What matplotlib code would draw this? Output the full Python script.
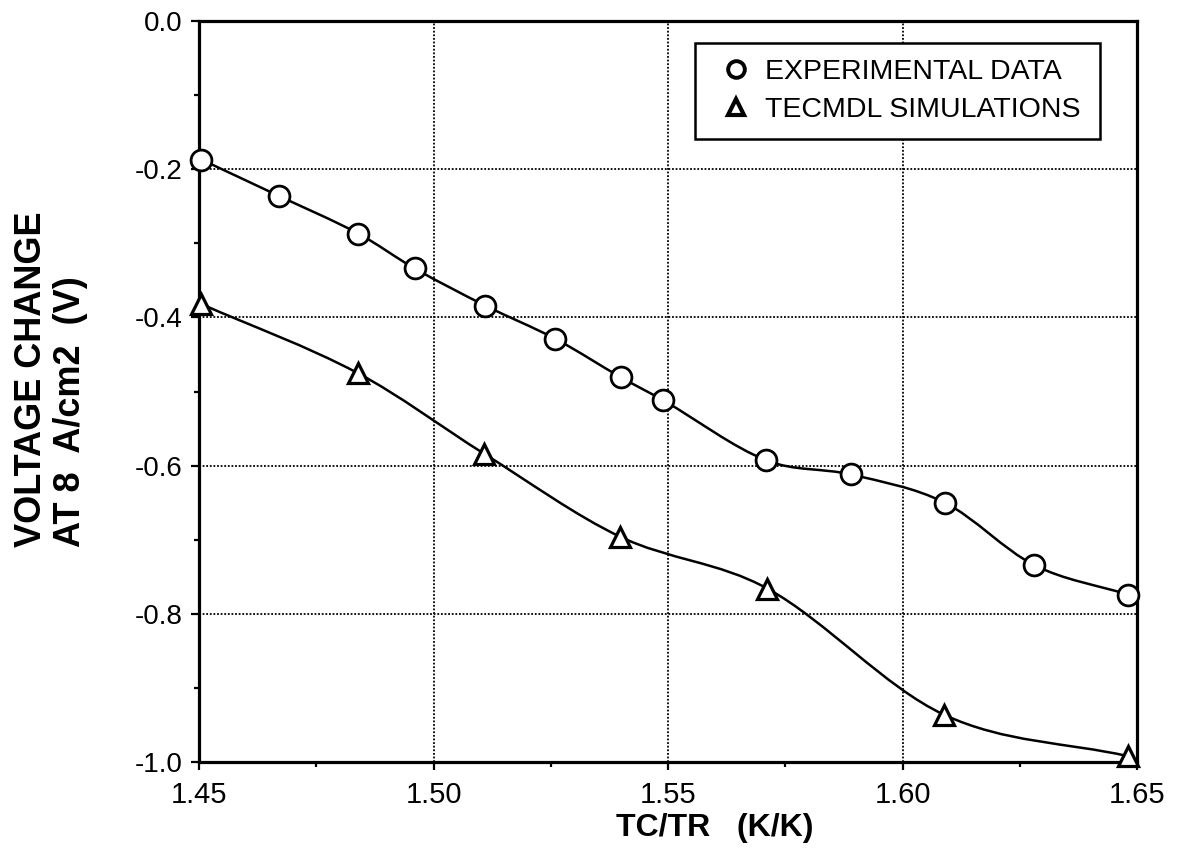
import numpy as np
import matplotlib
matplotlib.use("Agg")
import matplotlib.pyplot as plt
from matplotlib.path import Path
from matplotlib.patches import PathPatch
from matplotlib.lines import Line2D

plt.rcParams['font.family'] = ['Liberation Sans', 'DejaVu Sans']
plt.rcParams['axes.unicode_minus'] = False

# ---- data ----
exp_x = [1.4505, 1.467, 1.484, 1.496, 1.511, 1.526, 1.540, 1.549, 1.571, 1.589, 1.609, 1.628, 1.648]
exp_y = [-0.187, -0.236, -0.287, -0.334, -0.384, -0.429, -0.481, -0.512, -0.593, -0.612, -0.650, -0.734, -0.774]
sim_x = [1.4505, 1.4838, 1.5108, 1.5398, 1.5712, 1.6088, 1.648]
sim_y = [-0.382, -0.475, -0.584, -0.696, -0.766, -0.936, -0.992]

x_ticks = [1.45, 1.50, 1.55, 1.60, 1.65]
x_tick_labels = ["1.45", "1.50", "1.55", "1.60", "1.65"]
y_ticks = [0.0, -0.2, -0.4, -0.6, -0.8, -1.0]
y_tick_labels = ["0.0", "-0.2", "-0.4", "-0.6", "-0.8", "-1.0"]
x_minor = [1.475, 1.525, 1.575, 1.625]
y_minor = [-0.1, -0.3, -0.5, -0.7, -0.9]

series_labels = ["EXPERIMENTAL DATA", "TECMDL SIMULATIONS"]
x_label = "TC/TR   (K/K)"
y_label = "VOLTAGE CHANGE\nAT 8  A/cm2  (V)"


def smooth_path(xs, ys):
    """Smooth Hermite (Bezier) curve through the data points, drawn in data coordinates."""
    x = np.asarray(xs, float)
    y = np.asarray(ys, float)
    n = len(x)
    m = np.empty(n)
    m[0] = (y[1] - y[0]) / (x[1] - x[0])
    m[-1] = (y[-1] - y[-2]) / (x[-1] - x[-2])
    for i in range(1, n - 1):
        m[i] = (y[i + 1] - y[i - 1]) / (x[i + 1] - x[i - 1])
    verts = [(x[0], y[0])]
    codes = [Path.MOVETO]
    for i in range(n - 1):
        h = x[i + 1] - x[i]
        verts += [(x[i] + h / 3, y[i] + m[i] * h / 3),
                  (x[i + 1] - h / 3, y[i + 1] - m[i + 1] * h / 3),
                  (x[i + 1], y[i + 1])]
        codes += [Path.CURVE4] * 3
    return Path(verts, codes)


W, H = 1177, 859
fig = plt.figure(figsize=(W / 100, H / 100), dpi=100)
left, right, top, bottom = 199, 1137, 21, 762
ax = fig.add_axes([left / W, 1 - bottom / H, (right - left) / W, (bottom - top) / H])

ax.set_xlim(1.45, 1.65)
ax.set_ylim(-1.0, 0.0)

# ticks and grid
ax.set_xticks(x_ticks)
ax.set_xticklabels(x_tick_labels, fontsize=21)
ax.set_yticks(y_ticks)
ax.set_yticklabels(y_tick_labels, fontsize=20)
ax.set_xticks(x_minor, minor=True)
ax.set_yticks(y_minor, minor=True)
ax.grid(True, which='major', color='black', linestyle=(0, (1, 1)), linewidth=1.3, zorder=0)
ax.tick_params(which='major', direction='out', length=6, width=1.6, pad=6)
ax.tick_params(axis='x', which='major', pad=8)
ax.tick_params(which='minor', direction='out', length=3.5, width=1.6)
for sp in ax.spines.values():
    sp.set_linewidth(2.3)
    sp.set_zorder(5)

# curves
for xs, ys in [(exp_x, exp_y), (sim_x, sim_y)]:
    ax.add_patch(PathPatch(smooth_path(xs, ys), fill=False, edgecolor='black',
                           linewidth=1.8, zorder=2, capstyle='round'))

ax.plot(exp_x, exp_y, linestyle='none', marker='o', markersize=15, markerfacecolor='white',
        markeredgecolor='black', markeredgewidth=2.0, clip_on=False, zorder=6)
ax.plot(sim_x, sim_y, linestyle='none', marker='^', markersize=15, markerfacecolor='white',
        markeredgecolor='black', markeredgewidth=2.3, clip_on=False, zorder=6)

# legend
handles = [Line2D([], [], linestyle='none', marker='o', markersize=12, markerfacecolor='white',
                  markeredgecolor='black', markeredgewidth=2.8),
           Line2D([], [], linestyle='none', marker='^', markersize=12, markerfacecolor='white',
                  markeredgecolor='black', markeredgewidth=3.0)]
leg = ax.legend(handles, series_labels, loc='upper left',
                bbox_to_anchor=(0.529, 0.834, 0.432, 0.136), mode='expand', borderaxespad=0,
                fontsize=20.5, handlelength=1.75, handletextpad=0.15, borderpad=0.55,
                labelspacing=0.42, fancybox=False, framealpha=1, edgecolor='black')
leg.get_frame().set_linewidth(1.8)
leg.set_zorder(7)

# axis labels
fig.text(715 / W, 1 - 828 / H, x_label, ha='center', va='center', fontsize=23, fontweight='bold')
fig.text(51 / W, 1 - 379 / H, y_label, rotation=90, ha='center', va='center',
         multialignment='left', fontsize=26, fontweight='bold', linespacing=1.15)

fig.savefig("out.png", dpi=100)
